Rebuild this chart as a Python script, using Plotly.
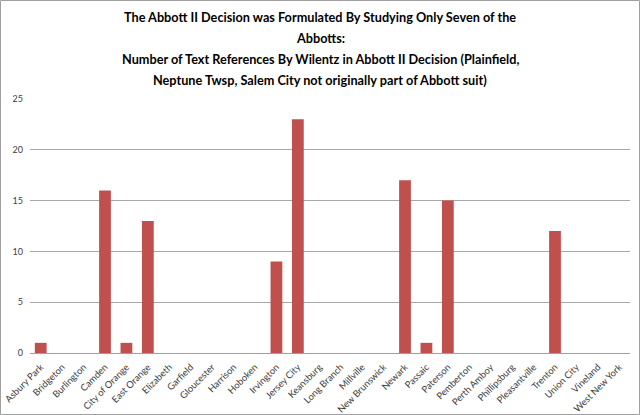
import plotly.graph_objects as go

towns = ["Asbury Park", "Bridgeton", "Burlington", "Camden", "City of Orange",
         "East Orange", "Elizabeth", "Garfield", "Gloucester", "Harrison",
         "Hoboken", "Irvington", "Jersey City", "Keansburg", "Long Branch",
         "Millville", "New Brunswick", "Newark", "Passaic", "Paterson",
         "Pemberton", "Perth Amboy", "Phillipsburg", "Pleasantville", "Trenton",
         "Union City", "Vineland", "West New York"]
refs = [1, 0, 0, 16, 1, 13, 0, 0, 0, 0, 0, 9, 23, 0, 0, 0, 0, 17, 1, 15,
        0, 0, 0, 0, 12, 0, 0, 0]
y_ticks = [0, 5, 10, 15, 20, 25]

title_lines = ["The Abbott II Decision was Formulated By Studying Only Seven of the",
               "Abbotts:",
               "Number of Text References By Wilentz in Abbott II Decision (Plainfield,",
               "Neptune Twsp, Salem City not originally part of Abbott suit)"]

fig = go.Figure()
fig.add_trace(go.Bar(
    x=towns, y=refs,
    marker=dict(color="#C0504D", line=dict(width=0)),
))

W, H = 640, 415
L, R, T, B = 30, 10, 99, 62
pw, ph = W - L - R, H - T - B

fig.update_layout(
    width=W, height=H,
    margin=dict(l=L, r=R, t=T, b=B, autoexpand=False),
    paper_bgcolor="white", plot_bgcolor="white",
    bargap=0.45,
    showlegend=False,
    font=dict(family="Lato, Open Sans, sans-serif", size=10, color="#404040"),
    xaxis=dict(tickangle=-45, showline=True, linecolor="#A0A0A0", ticks="",
               automargin=False, ticklabelstandoff=4,
               tickfont=dict(size=9.4, color="#404040")),
    yaxis=dict(range=[0, 25], tickvals=y_ticks, showgrid=True, gridcolor="#A8A8A8",
               gridwidth=1, zeroline=False, ticks="", showline=False,
               automargin=False, ticklabelstandoff=6,
               tickfont=dict(size=9, color="#404040")),
)

# title, one line per annotation so the spacing follows the picture
line_y = [17, 38, 59, 80]
for txt, yp in zip(title_lines, line_y):
    fig.add_annotation(text="<b>" + txt + "</b>", xref="paper", yref="paper",
                       x=(320 - L) / pw, y=1 + (T - yp) / ph,
                       xanchor="center", yanchor="middle", showarrow=False,
                       font=dict(family="Lato, Open Sans, sans-serif", size=12.7,
                                 color="black"))

# thin border round the whole picture
fig.add_shape(type="rect", xref="paper", yref="paper",
              x0=(0.5 - L) / pw, x1=(W - 0.5 - L) / pw,
              y0=-(B - 0.5) / ph, y1=1 + (T - 0.5) / ph,
              line=dict(color="#A0A0A0", width=1), layer="above")

# page body has a default margin, drop it so the figure sits at the corner
fig.write_html("out.html", config={"displayModeBar": False},
               post_script="document.body.style.margin='0';")
